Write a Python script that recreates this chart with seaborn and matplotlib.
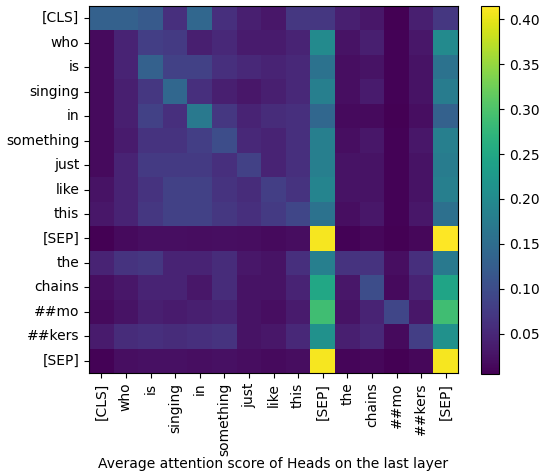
import matplotlib
matplotlib.use("Agg")
import matplotlib.pyplot as plt
import numpy as np
import seaborn as sns

tokens = ["[CLS]", "who", "is", "singing", "in", "something", "just", "like",
          "this", "[SEP]", "the", "chains", "##mo", "##kers", "[SEP]"]

# rows = query token, columns = key token
row_cls = [0.130, 0.130, 0.120, 0.060, 0.140, 0.060, 0.040, 0.030, 0.070, 0.070, 0.040, 0.030, 0.005, 0.040, 0.070]
row_who = [0.015, 0.045, 0.080, 0.075, 0.040, 0.050, 0.035, 0.035, 0.045, 0.200, 0.025, 0.040, 0.008, 0.030, 0.200]
row_is = [0.015, 0.045, 0.130, 0.085, 0.085, 0.060, 0.050, 0.045, 0.050, 0.160, 0.020, 0.025, 0.008, 0.025, 0.160]
row_singing = [0.015, 0.040, 0.070, 0.140, 0.060, 0.040, 0.030, 0.040, 0.050, 0.180, 0.020, 0.035, 0.008, 0.025, 0.175]
row_in = [0.015, 0.040, 0.085, 0.060, 0.170, 0.070, 0.045, 0.055, 0.060, 0.140, 0.015, 0.015, 0.005, 0.020, 0.130]
row_something = [0.015, 0.035, 0.065, 0.065, 0.080, 0.100, 0.050, 0.045, 0.060, 0.180, 0.020, 0.030, 0.008, 0.030, 0.180]
row_just = [0.015, 0.045, 0.075, 0.075, 0.075, 0.060, 0.085, 0.045, 0.060, 0.180, 0.025, 0.025, 0.008, 0.025, 0.175]
row_like = [0.025, 0.045, 0.065, 0.085, 0.085, 0.065, 0.055, 0.080, 0.065, 0.190, 0.025, 0.025, 0.008, 0.025, 0.180]
row_this = [0.030, 0.045, 0.070, 0.085, 0.085, 0.070, 0.060, 0.075, 0.090, 0.160, 0.020, 0.030, 0.008, 0.030, 0.155]
row_sep1 = [0.005, 0.015, 0.020, 0.020, 0.018, 0.020, 0.018, 0.015, 0.018, 0.410, 0.008, 0.012, 0.005, 0.012, 0.415]
row_the = [0.045, 0.065, 0.070, 0.045, 0.045, 0.055, 0.030, 0.025, 0.060, 0.180, 0.065, 0.065, 0.020, 0.060, 0.170]
row_chains = [0.020, 0.030, 0.045, 0.045, 0.030, 0.055, 0.025, 0.025, 0.045, 0.250, 0.030, 0.100, 0.015, 0.045, 0.245]
row_mo = [0.015, 0.025, 0.040, 0.035, 0.040, 0.045, 0.025, 0.020, 0.035, 0.290, 0.025, 0.045, 0.090, 0.030, 0.290]
row_kers = [0.035, 0.055, 0.060, 0.055, 0.060, 0.065, 0.025, 0.030, 0.050, 0.210, 0.040, 0.050, 0.015, 0.080, 0.210]
row_sep2 = [0.008, 0.020, 0.022, 0.022, 0.020, 0.022, 0.018, 0.015, 0.018, 0.410, 0.010, 0.012, 0.005, 0.012, 0.410]

attention = np.array([row_cls, row_who, row_is, row_singing, row_in, row_something,
                      row_just, row_like, row_this, row_sep1, row_the, row_chains,
                      row_mo, row_kers, row_sep2])

fig = plt.figure(figsize=(5.44, 4.75), dpi=100)
ax = fig.add_axes([89 / 544, 1 - 373 / 475, 369 / 544, 367 / 475])
cax = fig.add_axes([481 / 544, 1 - 374 / 475, 18 / 544, 368 / 475])

sns.heatmap(attention, cmap="viridis", ax=ax, cbar_ax=cax,
            xticklabels=tokens, yticklabels=tokens)
ax.set_yticklabels(tokens, rotation=0)
ax.set_xticklabels(tokens, rotation=90)
for spine in ax.spines.values():
    spine.set_visible(True)
    spine.set_color("black")
    spine.set_linewidth(0.8)
cb = ax.collections[0].colorbar
cb.outline.set_visible(True)
cb.outline.set_linewidth(0.8)
cb.outline.set_edgecolor("black")
ax.set_xlabel("Average attention score of Heads on the last layer", labelpad=1)

fig.savefig("out.png", dpi=100)
